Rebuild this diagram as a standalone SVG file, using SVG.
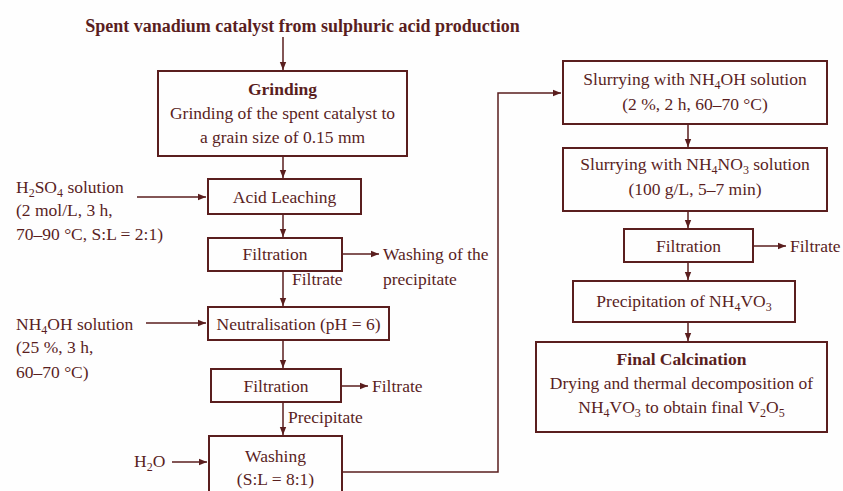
<svg xmlns="http://www.w3.org/2000/svg" width="843" height="491" viewBox="0 0 843 491">
<style>
  text { font-family: "Liberation Serif", "Times New Roman", serif; font-size: 17.5px; fill: #5a1e1e; }
  .b { font-weight: bold; }
  .t { font-size: 18px; }
  .m { text-anchor: middle; }
  .sub { font-size: 12px; }
  rect { fill: none; stroke: #5a1e1e; stroke-width: 2; }
  .c line, .c path { stroke: #5a1e1e; stroke-width: 1.5; fill: none; marker-end: url(#ah); }
</style>
<defs>
  <marker id="ah" markerUnits="userSpaceOnUse" markerWidth="9" markerHeight="8" refX="8" refY="4" orient="auto">
    <path d="M0,0.8 L8,4 L0,7.2 Z" fill="#5a1e1e"/>
  </marker>
</defs>
<rect x="0" y="0" width="843" height="491" style="fill:#fefefe;stroke:none"/>

<g id="title"><text class="b m t" x="302.5" y="32">Spent vanadium catalyst from sulphuric acid production</text></g>

<g id="grinding">
  <rect x="158" y="71" width="249" height="85"/>
  <text class="b m" x="282.5" y="95">Grinding</text>
  <text class="m" x="282.5" y="119">Grinding of the spent catalyst to</text>
  <text class="m" x="282.5" y="143">a grain size of 0.15 mm</text>
</g>

<g id="h2so4">
  <text x="16" y="193">H<tspan class="sub" dy="4">2</tspan><tspan dy="-4">SO</tspan><tspan class="sub" dy="4">4</tspan><tspan dy="-4"> solution</tspan></text>
  <text x="16" y="216">(2 mol/L, 3 h,</text>
  <text x="16" y="240">70–90 °C, S:L = 2:1)</text>
</g>

<g id="acid-leaching">
  <rect x="208" y="179" width="153" height="35"/>
  <text class="m" x="284.5" y="203">Acid Leaching</text>
</g>

<g id="filtration1">
  <rect x="208" y="238" width="134" height="33"/>
  <text class="m" x="275" y="260">Filtration</text>
</g>
<g id="washing-precipitate">
  <text x="383" y="260">Washing of the</text>
  <text x="383" y="285">precipitate</text>
</g>
<g id="lbl-filtrate1"><text x="292" y="285">Filtrate</text></g>

<g id="nh4oh">
  <text x="16" y="330">NH<tspan class="sub" dy="4">4</tspan><tspan dy="-4">OH solution</tspan></text>
  <text x="16" y="353">(25 %, 3 h,</text>
  <text x="16" y="378">60–70 °C)</text>
</g>

<g id="neutralisation">
  <rect x="208" y="307" width="181" height="33"/>
  <text class="m" x="298.5" y="330">Neutralisation (pH = 6)</text>
</g>

<g id="filtration2">
  <rect x="211" y="369" width="130" height="33"/>
  <text class="m" x="276" y="392">Filtration</text>
</g>
<g id="filtrate2"><text x="372" y="392">Filtrate</text></g>
<g id="lbl-precipitate"><text x="288" y="423">Precipitate</text></g>

<g id="h2o">
  <text x="134" y="467">H<tspan class="sub" dy="4">2</tspan><tspan dy="-4">O</tspan></text>
</g>

<g id="washing">
  <rect x="209" y="436" width="133" height="70"/>
  <text class="m" x="275.5" y="462">Washing</text>
  <text class="m" x="275.5" y="485">(S:L = 8:1)</text>
</g>

<g id="slurry-nh4oh">
  <rect x="563" y="61" width="264" height="63"/>
  <text class="m" x="695" y="85">Slurrying with NH<tspan class="sub" dy="4">4</tspan><tspan dy="-4">OH solution</tspan></text>
  <text class="m" x="695" y="110">(2 %, 2 h, 60–70 °C)</text>
</g>

<g id="slurry-nh4no3">
  <rect x="563" y="148" width="264" height="63"/>
  <text class="m" x="695" y="170">Slurrying with NH<tspan class="sub" dy="4">4</tspan><tspan dy="-4">NO</tspan><tspan class="sub" dy="4">3</tspan><tspan dy="-4"> solution</tspan></text>
  <text class="m" x="695" y="195">(100 g/L, 5–7 min)</text>
</g>

<g id="filtration3">
  <rect x="624" y="229" width="129" height="33"/>
  <text class="m" x="688.5" y="252">Filtration</text>
</g>
<g id="filtrate3"><text x="790" y="252">Filtrate</text></g>

<g id="precipitation">
  <rect x="573" y="281" width="222" height="41"/>
  <text class="m" x="684" y="307">Precipitation of NH<tspan class="sub" dy="4">4</tspan><tspan dy="-4">VO</tspan><tspan class="sub" dy="4">3</tspan></text>
</g>

<g id="final-calcination">
  <rect x="536" y="342" width="291" height="90"/>
  <text class="b m" x="681.5" y="365">Final Calcination</text>
  <text class="m" x="681.5" y="389">Drying and thermal decomposition of</text>
  <text class="m" x="681.5" y="413">NH<tspan class="sub" dy="4">4</tspan><tspan dy="-4">VO</tspan><tspan class="sub" dy="4">3</tspan><tspan dy="-4"> to obtain final V</tspan><tspan class="sub" dy="4">2</tspan><tspan dy="-4">O</tspan><tspan class="sub" dy="4">5</tspan></text>
</g>

<g id="connectors" class="c">
  <line x1="283" y1="37" x2="283" y2="70"/>
  <line x1="283" y1="156" x2="283" y2="178"/>
  <line x1="137" y1="197" x2="206" y2="197"/>
  <line x1="283" y1="214" x2="283" y2="237"/>
  <line x1="343" y1="254" x2="379" y2="254"/>
  <line x1="283" y1="271" x2="283" y2="306"/>
  <line x1="146" y1="323" x2="206" y2="323"/>
  <line x1="283" y1="340" x2="283" y2="368"/>
  <line x1="342" y1="386" x2="368" y2="386"/>
  <line x1="283" y1="402" x2="283" y2="435"/>
  <line x1="172" y1="462" x2="207" y2="462"/>
  <path d="M342,472 H498 V93 H561"/>
  <line x1="688" y1="124" x2="688" y2="147"/>
  <line x1="688" y1="211" x2="688" y2="228"/>
  <line x1="753" y1="246" x2="786" y2="246"/>
  <line x1="688" y1="262" x2="688" y2="280"/>
  <line x1="688" y1="322" x2="688" y2="341"/>
</g>
</svg>
